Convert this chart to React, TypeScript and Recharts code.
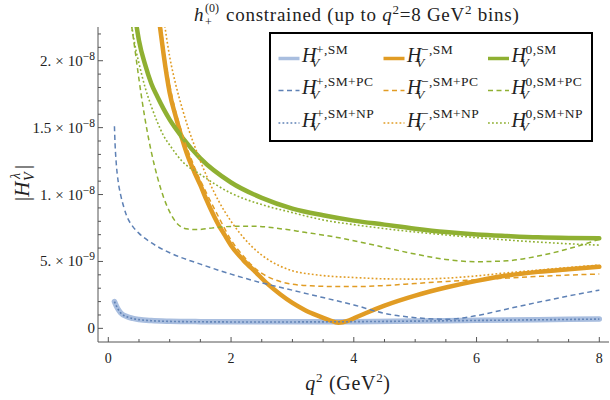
import React from 'react';
import { LineChart, Line, XAxis, YAxis, Legend, Customized } from 'recharts';

const FONT = '"Liberation Serif", "Times New Roman", serif';
const FRAME = '#555555';

// q^2 (GeV^2) and |H_V| in units of 1e-9
const plusSM_q = [0.1, 0.15, 0.2, 0.3, 0.4, 0.5, 0.7, 1.0, 1.5, 2, 3, 4, 5, 6, 7, 8];
const plusSM_v = [2.0, 1.5, 1.17, 0.88, 0.74, 0.66, 0.58, 0.53, 0.5, 0.49, 0.49, 0.5, 0.55, 0.6, 0.65, 0.7];

const plusNP_q = [0.1, 0.15, 0.2, 0.3, 0.4, 0.5, 0.7, 1.0, 1.5, 2, 3, 4, 5, 6, 7, 8];
const plusNP_v = [2.0, 1.5, 1.16, 0.87, 0.73, 0.65, 0.57, 0.52, 0.49, 0.48, 0.48, 0.5, 0.54, 0.59, 0.64, 0.69];

const plusPC_q = [0.1, 0.11, 0.13, 0.16, 0.2, 0.25, 0.3, 0.4, 0.5, 0.7, 1.0, 1.5, 2.0, 2.5, 3.0, 3.5, 4.0, 4.5, 5.0, 5.5, 6.0, 6.5, 7.0, 7.5, 8.0];
const plusPC_v = [15.1, 13.8, 12.3, 11.0, 10.0, 9.1, 8.4, 7.6, 7.1, 6.4, 5.65, 4.8, 4.05, 3.4, 2.85, 2.3, 1.75, 1.12, 0.8, 0.68, 0.95, 1.45, 1.95, 2.42, 2.86];

const minusSM_q = [0.84, 0.9, 1.0, 1.1, 1.2, 1.3, 1.4, 1.5, 1.6, 1.7, 1.8, 1.9, 2.0, 2.2, 2.4, 2.6, 2.8, 3.0, 3.2, 3.4, 3.6, 3.75, 3.9, 4.0, 4.2, 4.5, 5.0, 5.5, 6.0, 6.5, 7.0, 7.5, 8.0];
const minusSM_v = [22.6, 20.5, 17.6, 15.8, 14.2, 12.8, 11.7, 10.7, 9.6, 8.6, 7.7, 6.95, 6.2, 5.1, 4.2, 3.3, 2.55, 1.9, 1.38, 0.97, 0.62, 0.42, 0.55, 0.75, 1.15, 1.7, 2.45, 3.05, 3.55, 3.95, 4.22, 4.42, 4.6];

const minusPC_q = [0.86, 0.9, 1.0, 1.2, 1.4, 1.6, 1.8, 2.0, 2.2, 2.4, 2.6, 2.8, 3.0, 3.3, 3.6, 4.0, 4.5, 5, 5.5, 6, 6.5, 7, 7.5, 8];
const minusPC_v = [22.6, 21.0, 18.2, 14.6, 12.1, 10.1, 8.3, 6.6, 5.4, 4.45, 3.85, 3.5, 3.3, 3.18, 3.13, 3.12, 3.2, 3.35, 3.5, 3.63, 3.76, 3.88, 3.98, 4.06];

const minusNP_q = [0.92, 1.0, 1.1, 1.2, 1.3, 1.4, 1.5, 1.6, 1.8, 2.0, 2.2, 2.4, 2.6, 2.8, 3.0, 3.3, 3.6, 4.0, 4.5, 5, 5.5, 6, 6.5, 7, 7.5, 8];
const minusNP_v = [22.6, 20.3, 18.2, 16.5, 15.0, 13.7, 12.5, 11.4, 9.5, 8.0, 6.8, 5.85, 5.15, 4.65, 4.3, 4.05, 3.9, 3.8, 3.7, 3.68, 3.75, 3.92, 4.15, 4.35, 4.55, 4.73];

const zeroSM_q = [0.46, 0.5, 0.6, 0.7, 0.8, 0.9, 1.0, 1.2, 1.5, 2.0, 2.5, 3.0, 3.5, 4.0, 4.5, 5, 5.5, 6, 6.5, 7, 7.5, 8];
const zeroSM_v = [22.6, 21.5, 19.7, 18.3, 17.3, 16.4, 15.6, 14.3, 12.7, 10.9, 9.75, 8.95, 8.45, 8.05, 7.75, 7.45, 7.2, 7.02, 6.9, 6.8, 6.75, 6.73];

const zeroPC_q = [0.38, 0.45, 0.5, 0.6, 0.7, 0.8, 0.9, 1.0, 1.1, 1.2, 1.3, 1.45, 1.6, 1.8, 2.0, 2.4, 2.8, 3.2, 3.6, 4.0, 4.5, 5.0, 5.5, 6.0, 6.5, 7.0, 7.5, 8.0];
const zeroPC_v = [22.6, 20.3, 18.6, 15.6, 13.2, 11.3, 9.8, 8.7, 7.95, 7.55, 7.42, 7.38, 7.45, 7.55, 7.62, 7.63, 7.45, 7.18, 6.9, 6.55, 6.05, 5.55, 5.15, 4.98, 5.05, 5.4, 5.95, 6.65];

const zeroNP_q = [0.38, 0.45, 0.5, 0.6, 0.7, 0.8, 0.9, 1.0, 1.2, 1.5, 2.0, 2.5, 3.0, 3.5, 4.0, 4.5, 5, 5.5, 6, 6.5, 7, 7.5, 8];
const zeroNP_v = [22.6, 20.8, 19.8, 18.0, 16.6, 15.4, 14.4, 13.7, 12.5, 11.5, 10.1, 9.25, 8.65, 8.1, 7.75, 7.45, 7.2, 6.98, 6.78, 6.6, 6.45, 6.32, 6.22];

const legendSup = ['+,SM', '\u2212,SM', '0,SM', '+,SM+PC', '\u2212,SM+PC', '0,SM+PC', '+,SM+NP', '\u2212,SM+NP', '0,SM+NP'];

const xTicks = [0, 0.5, 1, 1.5, 2, 2.5, 3, 3.5, 4, 4.5, 5, 5.5, 6, 6.5, 7, 7.5, 8];
const xMajor = [0, 2, 4, 6, 8];
const yTicks = [0, 1, 2, 3, 4, 5, 6, 7, 8, 9, 10, 11, 12, 13, 14, 15, 16, 17, 18, 19, 20, 21, 22];
const yMajor = [0, 5, 10, 15, 20];
const yMant = ['0', '5.', '1.', '1.5', '2.'];
const yExp = ['', '\u22129', '\u22128', '\u22128', '\u22128'];

const BLUE = '#5e81b5';
const BLUE_LIGHT = '#a9bedf';
const ORANGE = '#e19c24';
const GREEN = '#8fb032';

const toPoints = (q: number[], v: number[]) => q.map((x, i) => ({ q: x, v: v[i] }));

type S = { key: string; data: { q: number; v: number }[]; color: string; width: number; dash?: string };
const DASH = '5 3.5';
const DOT = '1.8 2.2';
const series: S[] = [
  { key: 'plusSM', data: toPoints(plusSM_q, plusSM_v), color: BLUE_LIGHT, width: 5.5 },
  { key: 'minusSM', data: toPoints(minusSM_q, minusSM_v), color: ORANGE, width: 4.5 },
  { key: 'zeroSM', data: toPoints(zeroSM_q, zeroSM_v), color: GREEN, width: 4.5 },
  { key: 'plusPC', data: toPoints(plusPC_q, plusPC_v), color: BLUE, width: 1.5, dash: DASH },
  { key: 'minusPC', data: toPoints(minusPC_q, minusPC_v), color: ORANGE, width: 1.5, dash: DASH },
  { key: 'zeroPC', data: toPoints(zeroPC_q, zeroPC_v), color: GREEN, width: 1.5, dash: DASH },
  { key: 'plusNP', data: toPoints(plusNP_q, plusNP_v), color: BLUE, width: 1.6, dash: DOT },
  { key: 'minusNP', data: toPoints(minusNP_q, minusNP_v), color: ORANGE, width: 1.6, dash: DOT },
  { key: 'zeroNP', data: toPoints(zeroNP_q, zeroNP_v), color: GREEN, width: 1.6, dash: DOT },
];

const txt = { fontFamily: FONT };

const BottomTick = (p: any) => {
  const { x, y, payload } = p;
  const major = xMajor.includes(payload.value);
  return (
    <g>
      <line x1={x} x2={x} y1={y} y2={y - (major ? 5 : 3)} stroke={FRAME} strokeWidth={1} />
      {major && (
        <text x={x} y={y + 21} textAnchor="middle" fontSize={14} style={txt} fill="#222">
          {payload.value}
        </text>
      )}
    </g>
  );
};
const TopTick = (p: any) => {
  const { x, y, payload } = p;
  const major = xMajor.includes(payload.value);
  return <line x1={x} x2={x} y1={y} y2={y + (major ? 5 : 3)} stroke={FRAME} strokeWidth={1} />;
};
const LeftTick = (p: any) => {
  const { x, y, payload } = p;
  const idx = yMajor.indexOf(payload.value);
  const major = idx >= 0;
  return (
    <g>
      <line x1={x} x2={x + (major ? 5 : 3)} y1={y} y2={y} stroke={FRAME} strokeWidth={1} />
      {major && (
        <text x={x - 3} y={y + 5} textAnchor="end" fontSize={15} style={txt} fill="#222">
          {yMant[idx]}
          {yExp[idx] && (
            <>
              <tspan dx={4}>{'\u00d7'}</tspan>
              <tspan dx={4}>10</tspan>
              <tspan dy={-6} fontSize={11.5}>{yExp[idx]}</tspan>
            </>
          )}
        </text>
      )}
    </g>
  );
};
const RightTick = (p: any) => {
  const { x, y, payload } = p;
  const major = yMajor.includes(payload.value);
  return <line x1={x} x2={x - (major ? 5 : 3)} y1={y} y2={y} stroke={FRAME} strokeWidth={1} />;
};

const Texts = () => (
  <g style={txt} fill="#222">
    <text x={194} y={21} fontSize={19} fontStyle="italic">h</text>
    <text x={205} y={12} fontSize={12}>(0)</text>
    <text x={205} y={26} fontSize={12}>+</text>
    <text x={226} y={21} fontSize={19} letterSpacing={0.75}>
      constrained (up to <tspan fontStyle="italic">q</tspan>
      <tspan dy={-7} fontSize={13}>2</tspan>
      <tspan dy={7}>=8 GeV</tspan>
      <tspan dy={-7} fontSize={13}>2</tspan>
      <tspan dy={7}> bins)</tspan>
    </text>
    <text x={348} y={390} fontSize={20} textAnchor="middle" letterSpacing={0.7}>
      <tspan fontStyle="italic">q</tspan>
      <tspan dy={-8} fontSize={13}>2</tspan>
      <tspan dy={8}> (GeV</tspan>
      <tspan dy={-8} fontSize={13}>2</tspan>
      <tspan dy={8}>)</tspan>
    </text>
    <g transform="translate(29,181) rotate(-90)">
      <text x={-20} y={0} fontSize={21}>|<tspan fontStyle="italic">H</tspan></text>
      <text x={2} y={-9} fontSize={14} fontStyle="italic">{'\u03bb'}</text>
      <text x={0} y={5} fontSize={14} fontStyle="italic">V</text>
      <text x={12} y={0} fontSize={21}>|</text>
    </g>
  </g>
);

const LegendBox = () => {
  const colX = [9.5, 114.5, 219];
  const rowY = [26.5, 58.5, 91];
  return (
    <svg width={324} height={110} style={{ display: 'block' }}>
      <rect x={1} y={1} width={322} height={108} fill="#fff" stroke="#000" strokeWidth={2} />
      {series.map((s, i) => {
        const r = Math.floor(i / 3);
        const c = i % 3;
        const lx = colX[c];
        const ly = rowY[r];
        const hx = lx + 23.5;
        return (
          <g key={s.key} style={txt} fill="#222">
            <line x1={lx} x2={lx + 21} y1={ly} y2={ly} stroke={s.color} strokeWidth={s.dash ? 1.5 : 3.5} strokeDasharray={s.dash} />
            <text x={hx} y={ly + 3.5} fontSize={20} fontStyle="italic">H</text>
            <text x={hx + 14} y={ly - 5} fontSize={13.5} letterSpacing={0.4}>{legendSup[i]}</text>
            <text x={hx + 9} y={ly + 8} fontSize={13.5} fontStyle="italic">V</text>
          </g>
        );
      })}
    </svg>
  );
};

export default function App() {
  return (
    <div style={{ position: 'absolute', left: 0, top: 0, width: 610, height: 400, background: '#fff', fontFamily: FONT }}>
      <LineChart width={610} height={400} margin={{ top: 27, right: 1, bottom: 28, left: 38 }}>
        <XAxis
          xAxisId="b"
          dataKey="q"
          type="number"
          domain={[-0.168, 8.158]}
          ticks={xTicks}
          interval={0}
          allowDataOverflow
          height={30}
          tickSize={0}
          tickMargin={0}
          tickLine={false}
          axisLine={{ stroke: FRAME }}
          tick={BottomTick}
        />
        <XAxis
          xAxisId="t"
          orientation="top"
          dataKey="q"
          type="number"
          domain={[-0.168, 8.158]}
          ticks={xTicks}
          interval={0}
          allowDataOverflow
          height={0}
          tickSize={0}
          tickMargin={0}
          tickLine={false}
          axisLine={{ stroke: FRAME }}
          tick={TopTick}
        />
        <YAxis
          yAxisId="l"
          type="number"
          domain={[-1.02, 22.52]}
          ticks={yTicks}
          interval={0}
          allowDataOverflow
          width={60}
          tickSize={0}
          tickMargin={0}
          tickLine={false}
          axisLine={{ stroke: FRAME }}
          tick={LeftTick}
        />
        <YAxis
          yAxisId="r"
          orientation="right"
          type="number"
          domain={[-1.02, 22.52]}
          ticks={yTicks}
          interval={0}
          allowDataOverflow
          width={0}
          tickSize={0}
          tickMargin={0}
          tickLine={false}
          axisLine={{ stroke: FRAME }}
          tick={RightTick}
        />
        {series.map((s) => (
          <Line
            key={s.key}
            xAxisId="b"
            yAxisId="l"
            data={s.data}
            dataKey="v"
            type="monotone"
            dot={false}
            activeDot={false}
            stroke={s.color}
            strokeWidth={s.width}
            strokeDasharray={s.dash}
            strokeLinecap={s.dash ? 'butt' : 'round'}
            isAnimationActive={false}
          />
        ))}
        <Customized component={Texts} />
        <Legend
          layout="horizontal"
          verticalAlign="middle"
          align="center"
          content={LegendBox}
          wrapperStyle={{ position: 'absolute', left: 269, top: 32, width: 324, height: 110 }}
        />
      </LineChart>
    </div>
  );
}
